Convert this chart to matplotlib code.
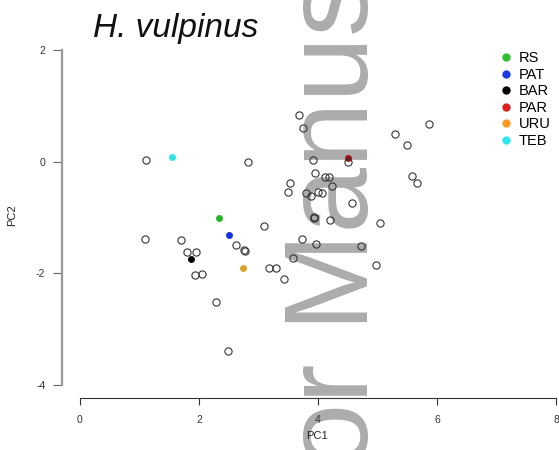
import matplotlib
matplotlib.use("Agg")
import matplotlib.pyplot as plt
from matplotlib.lines import Line2D

plt.rcParams['font.family'] = ['Liberation Sans', 'DejaVu Sans']
plt.rcParams['axes.unicode_minus'] = False

# unassigned specimens (open circles)
pc1 = [1.11, 2.82, 1.09, 1.70, 1.80, 1.95, 2.62, 2.76, 2.78, 1.93, 2.05, 2.29,
       2.49, 3.09, 3.18, 3.29, 3.43, 3.58, 3.73, 3.97, 3.93, 3.94, 4.20, 4.57,
       4.72, 5.04, 4.97, 3.68, 3.75, 3.92, 4.50, 3.95, 4.12, 4.18, 4.24, 3.53,
       3.50, 3.80, 3.88, 4.00, 4.07, 5.29, 5.50, 5.87, 5.58, 5.66]
pc2 = [0.02, -0.01, -1.39, -1.41, -1.63, -1.63, -1.49, -1.58, -1.60, -2.04, -2.01, -2.51,
       -3.39, -1.16, -1.90, -1.90, -2.11, -1.73, -1.38, -1.47, -1.00, -1.02, -1.05, -0.75,
       -1.51, -1.11, -1.85, 0.83, 0.60, 0.02, -0.01, -0.21, -0.28, -0.28, -0.44, -0.39,
       -0.55, -0.57, -0.62, -0.55, -0.57, 0.49, 0.29, 0.67, -0.26, -0.39]

# reference populations
groups = ['RS', 'PAT', 'BAR', 'PAR', 'URU', 'TEB']
grp_pc1 = [2.34, 2.50, 1.87, 4.50, 2.74, 1.55]
grp_pc2 = [-1.02, -1.32, -1.74, 0.06, -1.91, 0.08]
grp_col = ['#26b526', '#1634e0', '#000000', '#a01010', '#d8a428', '#2ee6ea']
leg_col = ['#2cc02c', '#1a3ae6', '#000000', '#e02020', '#ff9a22', '#30e8ec']

xticks = [0, 2, 4, 6, 8]
yticks = [-4, -2, 0, 2]

fig = plt.figure(figsize=(5.59, 4.5), dpi=100)
ax = fig.add_axes([62/559, 52/450, 497/559, 358/450])
ax.set_facecolor('none')

# watermark behind the plot
fig.text(368/559, (450-711)/450, 'Author Manuscript', rotation=90,
         rotation_mode='anchor', ha='left', va='baseline', fontsize=85,
         color='#acacac', zorder=-1)

for x, y, c in zip(grp_pc1, grp_pc2, grp_col):
    ax.plot(x, y, 'o', color=c, markersize=5, markeredgewidth=0, zorder=2)
ax.plot(pc1, pc2, 'o', markerfacecolor='none', markeredgecolor='#333333',
        markersize=5.2, markeredgewidth=0.8, zorder=3)

ax.set_xlim(-0.3, 8.05)
ax.set_ylim(-4.24, 2.18)
ax.set_xticks(xticks)
ax.set_yticks(yticks)
for s in ['top', 'right']:
    ax.spines[s].set_visible(False)
ax.spines['bottom'].set_bounds(0, 8)
ax.spines['left'].set_bounds(-4, 2)
ax.spines['bottom'].set_color('#333333')
ax.spines['left'].set_color('#999999')
ax.spines['left'].set_linewidth(1.6)
ax.tick_params(axis='x', length=5, pad=7.5, labelsize=7.5, colors='#333333')
ax.tick_params(axis='y', length=6.5, pad=5.5, labelsize=7.5, colors='#333333')
ax.tick_params(axis='y', color='#666666')

fig.text(317/559, 1-436/450, 'PC1', ha='center', va='center', fontsize=8, color='#222222')
fig.text(12/559, 1-215/450, 'PC2', ha='center', va='center', rotation=90, fontsize=8, color='#222222')

fig.text(93/559, 1-37/450, 'H. vulpinus', style='italic', fontsize=24, va='baseline', color='#111111')

handles = [Line2D([], [], linestyle='none', marker='o', markersize=6,
                  markerfacecolor=c, markeredgewidth=0) for c in leg_col]
fig.legend(handles, groups, loc='upper left', bbox_to_anchor=(500/559, 1-51/450),
           frameon=False, fontsize=10.5, handlelength=0.8, handletextpad=0.5,
           labelspacing=0.18, borderaxespad=0, borderpad=0)

fig.savefig('out.png', dpi=100)
